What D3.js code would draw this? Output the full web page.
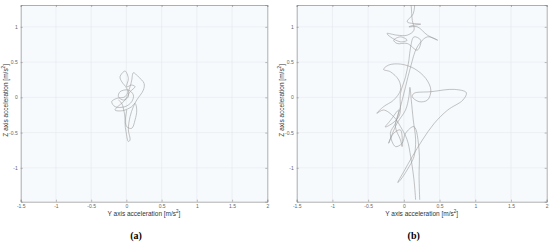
<!DOCTYPE html>
<html>
<head>
<meta charset="utf-8">
<script src="https://cdn.jsdelivr.net/npm/d3@7"></script>
<style>
  body { margin: 0; background: #fff; }
  svg { display: block; }
</style>
</head>
<body>
<script>
'use strict';

// tick values shared by both panels
const xTicks = [-1.5, -1, -0.5, 0, 0.5, 1, 1.5, 2];
const yTicks = [-1, -0.5, 0, 0.5, 1];
const panelLabels = ['(a)', '(b)'];

// trajectory (a): [Y acc, Z acc]
const pathA = [
  [0.005, -0.179], [-0.019, -0.368], [-0.005, -0.486], [0.028, -0.627], [0.052, -0.604],
  [0.028, -0.462], [0.052, -0.274], [0.099, -0.132], [0.147, -0.038], [0.241, 0.104],
  [0.251, 0.198], [0.170, 0.292], [0.099, 0.349], [0.076, 0.245], [0.052, 0.151],
  [-0.019, 0.009], [-0.137, -0.014], [-0.208, -0.061], [-0.161, -0.132], [-0.019, -0.132],
  [0.076, -0.061], [0.099, 0.033], [0.028, 0.104], [-0.090, 0.080], [-0.113, 0.009],
  [-0.043, -0.038], [0.028, 0.009], [0.005, 0.128], [-0.066, 0.222], [-0.090, 0.292],
  [-0.019, 0.373], [0.028, 0.269], [0.005, 0.151], [0.076, 0.175], [0.123, 0.151],
  [0.052, 0.080], [-0.019, -0.038], [-0.161, -0.179], [-0.054, -0.189], [0.076, -0.132],
  [0.123, -0.085], [0.147, -0.179], [0.123, -0.321], [0.076, -0.439], [0.005, -0.415],
  [-0.028, -0.226], [-0.066, -0.085], [-0.113, -0.038]
];

// trajectory (b)
const pathB = [
  [0.165, -1.453], [0.142, -1.170], [0.095, -0.840], [0.047, -0.604], [-0.047, -0.415],
  [-0.142, -0.274], [-0.284, -0.179], [-0.378, -0.226], [-0.284, -0.132], [-0.142, -0.038],
  [-0.047, 0.104], [-0.071, 0.245], [-0.189, 0.363], [-0.284, 0.396], [-0.213, 0.458],
  [-0.047, 0.472], [0.142, 0.410], [0.307, 0.269], [0.378, 0.104], [0.331, -0.038],
  [0.213, -0.061], [0.118, 0.009], [0.142, 0.057], [0.378, 0.080], [0.709, 0.113],
  [0.875, 0.066], [0.827, -0.038], [0.615, -0.179], [0.426, -0.368], [0.260, -0.604],
  [0.118, -0.840], [0.000, -1.052], [-0.085, -1.208], [-0.047, -1.170], [0.047, -1.028],
  [0.142, -0.840], [0.165, -0.604], [0.132, -0.321], [0.104, -0.038], [0.085, 0.142],
  [0.071, 0.009], [0.024, -0.179], [-0.095, -0.368], [-0.213, -0.651], [-0.142, -0.509],
  [-0.047, -0.462], [-0.024, -0.698], [-0.047, -0.604], [-0.118, -0.415], [-0.071, -0.179],
  [-0.190, -0.330], [-0.260, -0.420], [-0.150, -0.360], [-0.060, -0.250],
  [-0.047, 0.057], [0.024, 0.292], [0.071, 0.528], [0.095, 0.717], [0.142, 0.858],
  [0.236, 0.811], [0.189, 0.670], [0.047, 0.764], [-0.095, 0.764], [-0.142, 0.811],
  [-0.047, 0.858], [0.047, 0.811], [-0.047, 0.788], [-0.189, 0.858], [-0.236, 0.906],
  [-0.095, 0.882], [0.047, 0.882], [0.142, 0.953], [0.118, 1.094], [0.104, 1.283],
  [0.095, 1.377], [0.142, 1.354], [0.132, 1.189], [0.047, 1.071], [0.236, 1.038],
  [0.142, 1.024], [0.071, 1.000], [0.189, 1.000], [0.331, 0.882], [0.473, 0.811],
  [0.331, 0.858], [0.189, 0.717], [0.095, 0.434], [0.024, 0.151], [-0.047, -0.132],
  [-0.118, -0.368], [-0.189, -0.509], [-0.118, -0.698], [-0.024, -0.651], [0.024, -0.509],
  [0.142, -0.415], [0.213, -0.745], [0.213, -1.123], [0.222, -1.453]
];

const svg = d3.select('body').append('svg')
  .attr('width', 550)
  .attr('height', 242);

// one panel: plot box in pixels, data path, caption
function drawPanel(left, right, top, bottom, pts, label, id) {
  let x = d3.scaleLinear().domain([-1.5, 2]).range([left, right]);
  let y = d3.scaleLinear().domain([-1.48, 1.31]).range([bottom, top]);
  let g = svg.append('g');

  g.append('rect')
    .attr('x', left).attr('y', top)
    .attr('width', right - left).attr('height', bottom - top)
    .attr('fill', '#f7fafd');

  // grid
  g.selectAll('.vg').data(xTicks.slice(1, -1)).enter().append('line')
    .attr('x1', d => x(d)).attr('x2', d => x(d))
    .attr('y1', top).attr('y2', bottom)
    .attr('stroke', '#e4e8ed').attr('stroke-width', 0.6);
  g.selectAll('.hg').data(yTicks).enter().append('line')
    .attr('x1', left).attr('x2', right)
    .attr('y1', d => y(d)).attr('y2', d => y(d))
    .attr('stroke', '#e4e8ed').attr('stroke-width', 0.6);

  // trajectory
  g.append('clipPath').attr('id', id)
    .append('rect')
    .attr('x', left).attr('y', top)
    .attr('width', right - left).attr('height', bottom - top);

  let line = d3.line()
    .x(d => x(d[0]))
    .y(d => y(d[1]))
    .curve(d3.curveCatmullRom.alpha(0.5));

  g.append('path')
    .datum(pts)
    .attr('clip-path', 'url(#' + id + ')')
    .attr('d', line)
    .attr('fill', 'none')
    .attr('stroke', '#9a9a9a')
    .attr('stroke-width', 0.6);

  // axes, inward ticks like matlab
  let fmt = d => String(d);
  g.append('g').attr('transform', 'translate(0,' + bottom + ')')
    .call(d3.axisBottom(x).tickValues(xTicks).tickSize(-2).tickPadding(3).tickFormat(fmt));
  g.append('g').attr('transform', 'translate(0,' + top + ')')
    .call(d3.axisTop(x).tickValues(xTicks).tickSize(-2).tickFormat(''));
  g.append('g').attr('transform', 'translate(' + left + ',0)')
    .call(d3.axisLeft(y).tickValues(yTicks).tickSize(-2).tickPadding(3).tickFormat(fmt));
  g.append('g').attr('transform', 'translate(' + right + ',0)')
    .call(d3.axisRight(y).tickValues(yTicks).tickSize(-2).tickFormat(''));

  g.selectAll('.domain').attr('stroke', '#8c8c8c').attr('stroke-width', 0.7);
  g.selectAll('.tick line').attr('stroke', '#8c8c8c').attr('stroke-width', 0.6);
  g.selectAll('.tick text')
    .attr('fill', '#666')
    .style('font-family', 'Liberation Sans, Arial, sans-serif')
    .style('font-size', '5px');

  // axis titles
  let xt = g.append('text')
    .attr('x', (left + right) / 2)
    .attr('y', bottom + 14)
    .attr('text-anchor', 'middle')
    .style('font-family', 'Liberation Sans, Arial, sans-serif')
    .style('font-size', '6.5px')
    .attr('fill', '#333')
    .text('Y axis acceleration [m/s');
  xt.append('tspan').attr('dy', -2.5).style('font-size', '4.5px').text('2');
  xt.append('tspan').attr('dy', 2.5).text(']');

  let yt = g.append('text')
    .attr('transform', 'translate(' + (left - 13) + ',' + ((top + bottom) / 2 - 3) + ')rotate(-90)')
    .attr('text-anchor', 'middle')
    .style('font-family', 'Liberation Sans, Arial, sans-serif')
    .style('font-size', '6.5px')
    .attr('fill', '#333')
    .text('Z axis acceleration [m/s');
  yt.append('tspan').attr('dy', -2.5).style('font-size', '4.5px').text('2');
  yt.append('tspan').attr('dy', 2.5).text(']');

  // caption
  svg.append('text')
    .attr('x', (left + right) / 2 - 8)
    .attr('y', 239)
    .attr('text-anchor', 'middle')
    .style('font-family', 'Liberation Serif, Times New Roman, serif')
    .style('font-weight', 'bold')
    .style('font-size', '10px')
    .attr('fill', '#000')
    .text(label);
}

drawPanel(20.7, 267.3, 5, 201.7, pathA, panelLabels[0], 'clipA');
drawPanel(296.7, 546.7, 5, 201.7, pathB, panelLabels[1], 'clipB');
</script>
</body>
</html>
